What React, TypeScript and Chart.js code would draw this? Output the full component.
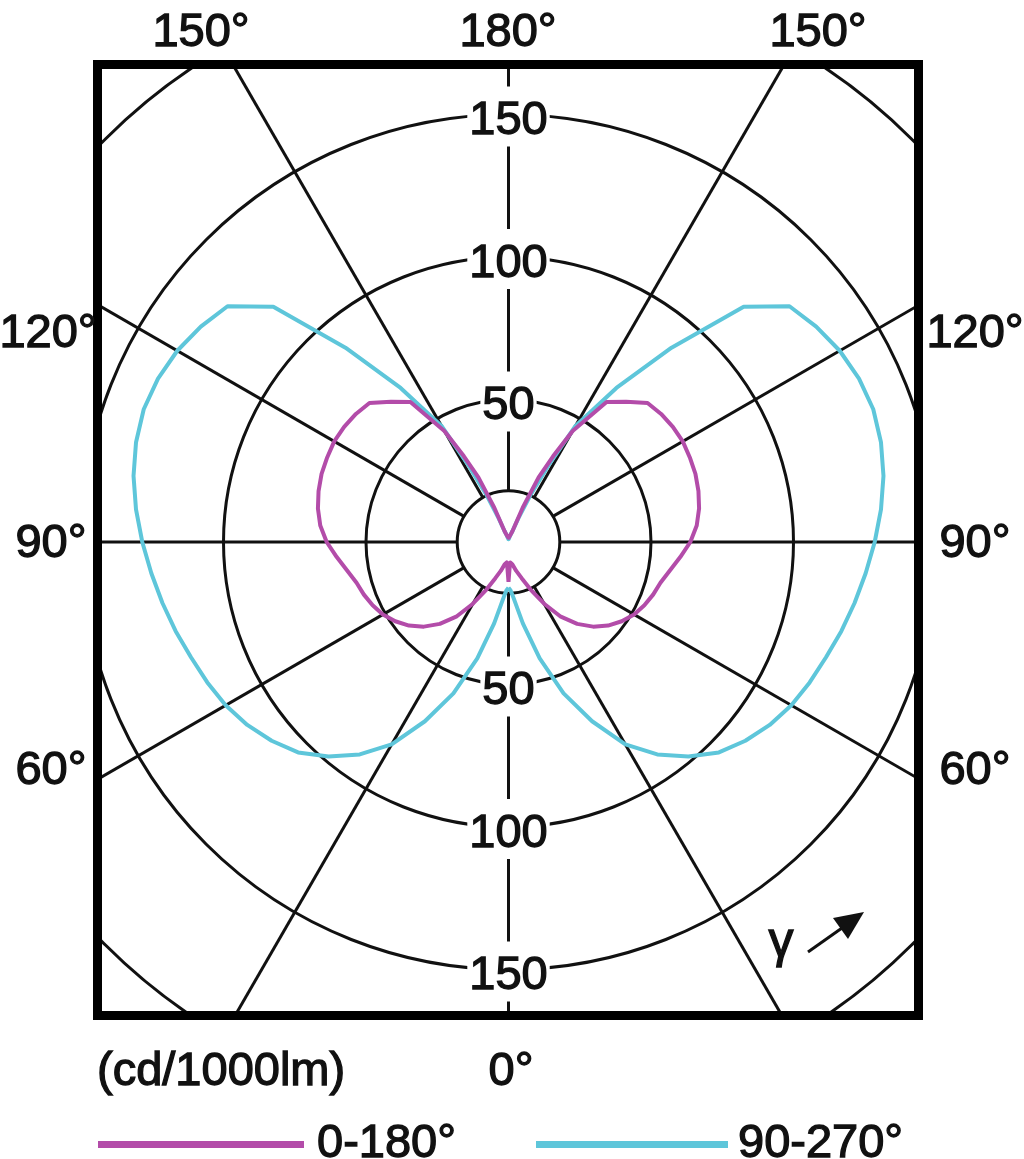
import React, { useEffect, useRef } from 'react';
import { Chart, registerables } from 'chart.js';

Chart.register(...registerables);

// ---- data (gamma in degrees, 0 = straight down, 180 = straight up) ----
const gammaDeg = [0, 2.5, 5, 10, 15, 20, 25, 30, 35, 40, 45, 50, 55, 60, 65, 70, 75, 80, 85, 90, 95, 100, 105, 110, 115, 120, 125, 130, 135, 140, 145, 150, 152.5, 155, 157.5, 160, 165, 170, 175, 180];
const plane0_180 = [14, 9, 7.2, 8, 10.5, 13.5, 18.5, 25, 32, 37.5, 42, 45.6, 48.5, 50.9, 52.6, 54, 55.2, 57.5, 60.5, 63.8, 66.3, 67.9, 69, 69.8, 70.2, 70.6, 70.4, 69.9, 69, 64.2, 60, 45, 34, 25, 13, 4, 2.5, 2, 1.5, 1.5];
const plane90_270 = [16, 17, 19.5, 29, 42.3, 56.5, 69.4, 82, 91, 98.2, 104.4, 108.5, 111.9, 114.6, 116.6, 118.5, 120.9, 123.3, 125.8, 128.5, 131.2, 133.6, 135.3, 136.2, 135.7, 134.2, 131.8, 128.7, 116.7, 89, 66, 47, 30, 18, 9, 4, 2.5, 1.5, 1, 1];
const seriesLabels = ['0-180°', '90-270°'];

const ringValues = [50, 100, 150, 200];
const innerRing = 18;
const ringLabelValues = [50, 100, 150];
const spokeAngles = [0, 30, 60, 90, 120, 150, 180, 210, 240, 270, 300, 330];
const unitLabel = '(cd/1000lm)';

// ---- styles / layout ----
const MAGENTA = '#b34ca9';
const CYAN = '#5ec6da';
const INK = '#111111';
const FONT = '"Liberation Sans", Arial, sans-serif';
const PX_PER_UNIT = 2.85;
const CENTER = { x: 508.5, y: 542 };
const AREA = { left: 102, top: 69, right: 914, bottom: 1011 };
const W = 1024;
const H = 1159;

const toXY = (g: number, v: number, side: number) => {
  const r = (g * Math.PI) / 180;
  return { x: side * v * Math.sin(r), y: -v * Math.cos(r) };
};

const loop = (vals: number[]) => {
  const right = gammaDeg.map((g, i) => toXY(g, vals[i], 1));
  const left = gammaDeg.map((g, i) => toXY(g, vals[i], -1)).reverse();
  return [...right, ...left];
};

const drawText = (ctx: CanvasRenderingContext2D, t: string, x: number, y: number) => {
  ctx.fillText(t, x, y);
  ctx.strokeText(t, x, y);
};

const polarGrid = {
  id: 'polarGrid',
  beforeDatasetsDraw(chart: any) {
    const { ctx, chartArea: a, scales } = chart;
    const xs = scales.x;
    const ys = scales.y;
    const cx = xs.getPixelForValue(0);
    const cy = ys.getPixelForValue(0);
    const k = xs.getPixelForValue(1) - cx;
    ctx.save();
    ctx.beginPath();
    ctx.rect(a.left, a.top, a.right - a.left, a.bottom - a.top);
    ctx.clip();
    ctx.strokeStyle = INK;
    ctx.lineWidth = 3;
    [innerRing, ...ringValues].forEach((r) => {
      ctx.beginPath();
      ctx.arc(cx, cy, r * k, 0, Math.PI * 2);
      ctx.stroke();
    });
    spokeAngles.forEach((g) => {
      const p0 = toXY(g, innerRing, 1);
      const p1 = toXY(g, 400, 1);
      ctx.beginPath();
      ctx.moveTo(xs.getPixelForValue(p0.x), ys.getPixelForValue(p0.y));
      ctx.lineTo(xs.getPixelForValue(p1.x), ys.getPixelForValue(p1.y));
      ctx.stroke();
    });
    ctx.font = `47px ${FONT}`;
    ctx.textAlign = 'center';
    ctx.textBaseline = 'alphabetic';
    ctx.lineWidth = 1.3;
    ringLabelValues.forEach((v) => {
      [1, -1].forEach((s) => {
        const py = ys.getPixelForValue(s * v);
        const txt = String(v);
        const w = ctx.measureText(txt).width;
        ctx.fillStyle = '#ffffff';
        ctx.fillRect(cx - w / 2 - 2, py - 28, w + 4, 60);
        ctx.fillStyle = INK;
        ctx.strokeStyle = INK;
        drawText(ctx, txt, cx, py + 19.5);
      });
    });
    ctx.restore();
  },
  afterDatasetsDraw(chart: any) {
    const { ctx, chartArea: a } = chart;
    ctx.save();
    ctx.strokeStyle = '#000';
    ctx.lineWidth = 9;
    ctx.strokeRect(a.left - 4.5, a.top - 4.5, a.right - a.left + 9, a.bottom - a.top + 9);
    ctx.restore();
  },
  afterDraw(chart: any) {
    const { ctx } = chart;
    ctx.save();
    ctx.fillStyle = INK;
    ctx.strokeStyle = INK;
    ctx.lineWidth = 1.3;
    ctx.font = `47px ${FONT}`;
    ctx.textBaseline = 'alphabetic';
    ctx.textAlign = 'center';
    const outer: [string, number, number][] = [
      ['150°', 201, 46],
      ['180°', 508, 46],
      ['150°', 818, 46],
      ['120°', 48, 347],
      ['90°', 51, 557],
      ['60°', 51, 784],
      ['120°', 975, 347],
      ['90°', 975, 557],
      ['60°', 975, 784],
      ['0°', 511, 1085],
    ];
    outer.forEach(([t, x, y]) => drawText(ctx, t, x, y));
    ctx.textAlign = 'left';
    drawText(ctx, unitLabel, 97, 1085);

    // legend
    const ds = chart.data.datasets;
    const legend = [
      { x0: 98, x1: 304, tx: 317 },
      { x0: 536, x1: 728, tx: 738 },
    ];
    legend.forEach((l, i) => {
      ctx.strokeStyle = ds[i].borderColor;
      ctx.lineWidth = 7;
      ctx.beginPath();
      ctx.moveTo(l.x0, 1144.5);
      ctx.lineTo(l.x1, 1144.5);
      ctx.stroke();
      ctx.fillStyle = INK;
      ctx.strokeStyle = INK;
      ctx.lineWidth = 1.3;
      drawText(ctx, ds[i].label, l.tx, 1157);
    });

    // gamma arrow
    ctx.font = `50px ${FONT}`;
    ctx.textAlign = 'center';
    drawText(ctx, 'γ', 781, 957);
    ctx.strokeStyle = INK;
    ctx.lineWidth = 3;
    ctx.beginPath();
    ctx.moveTo(808, 952);
    ctx.lineTo(842, 928);
    ctx.stroke();
    ctx.fillStyle = INK;
    ctx.beginPath();
    ctx.moveTo(864, 912);
    ctx.lineTo(848, 939);
    ctx.lineTo(833, 918);
    ctx.closePath();
    ctx.fill();
    ctx.restore();
  },
};

export default function App() {
  const ref = useRef<HTMLCanvasElement | null>(null);
  useEffect(() => {
    if (!ref.current) return;
    const xMin = (AREA.left - CENTER.x) / PX_PER_UNIT;
    const xMax = (AREA.right - CENTER.x) / PX_PER_UNIT;
    const yMax = (CENTER.y - AREA.top) / PX_PER_UNIT;
    const yMin = (CENTER.y - AREA.bottom) / PX_PER_UNIT;
    const chart = new Chart(ref.current, {
      type: 'scatter',
      data: {
        datasets: [
          {
            label: seriesLabels[0],
            data: loop(plane0_180),
            borderColor: MAGENTA,
            backgroundColor: MAGENTA,
            showLine: true,
            borderWidth: 4,
            pointRadius: 0,
            tension: 0,
            borderJoinStyle: 'round',
          },
          {
            label: seriesLabels[1],
            data: loop(plane90_270),
            borderColor: CYAN,
            backgroundColor: CYAN,
            showLine: true,
            borderWidth: 4,
            pointRadius: 0,
            tension: 0,
            borderJoinStyle: 'round',
          },
        ],
      },
      options: {
        animation: false,
        responsive: false,
        devicePixelRatio: 1,
        layout: {
          padding: { left: AREA.left, top: AREA.top, right: W - AREA.right, bottom: H - AREA.bottom },
        },
        scales: {
          x: { type: 'linear', min: xMin, max: xMax, display: false },
          y: { type: 'linear', min: yMin, max: yMax, display: false },
        },
        plugins: { legend: { display: false }, tooltip: { enabled: false } },
      },
      plugins: [polarGrid],
    });
    return () => chart.destroy();
  }, []);
  return (
    <div style={{ position: 'absolute', left: 0, top: 0, width: W, height: H, background: '#fff' }}>
      <canvas ref={ref} width={W} height={H} style={{ display: 'block' }} />
    </div>
  );
}
